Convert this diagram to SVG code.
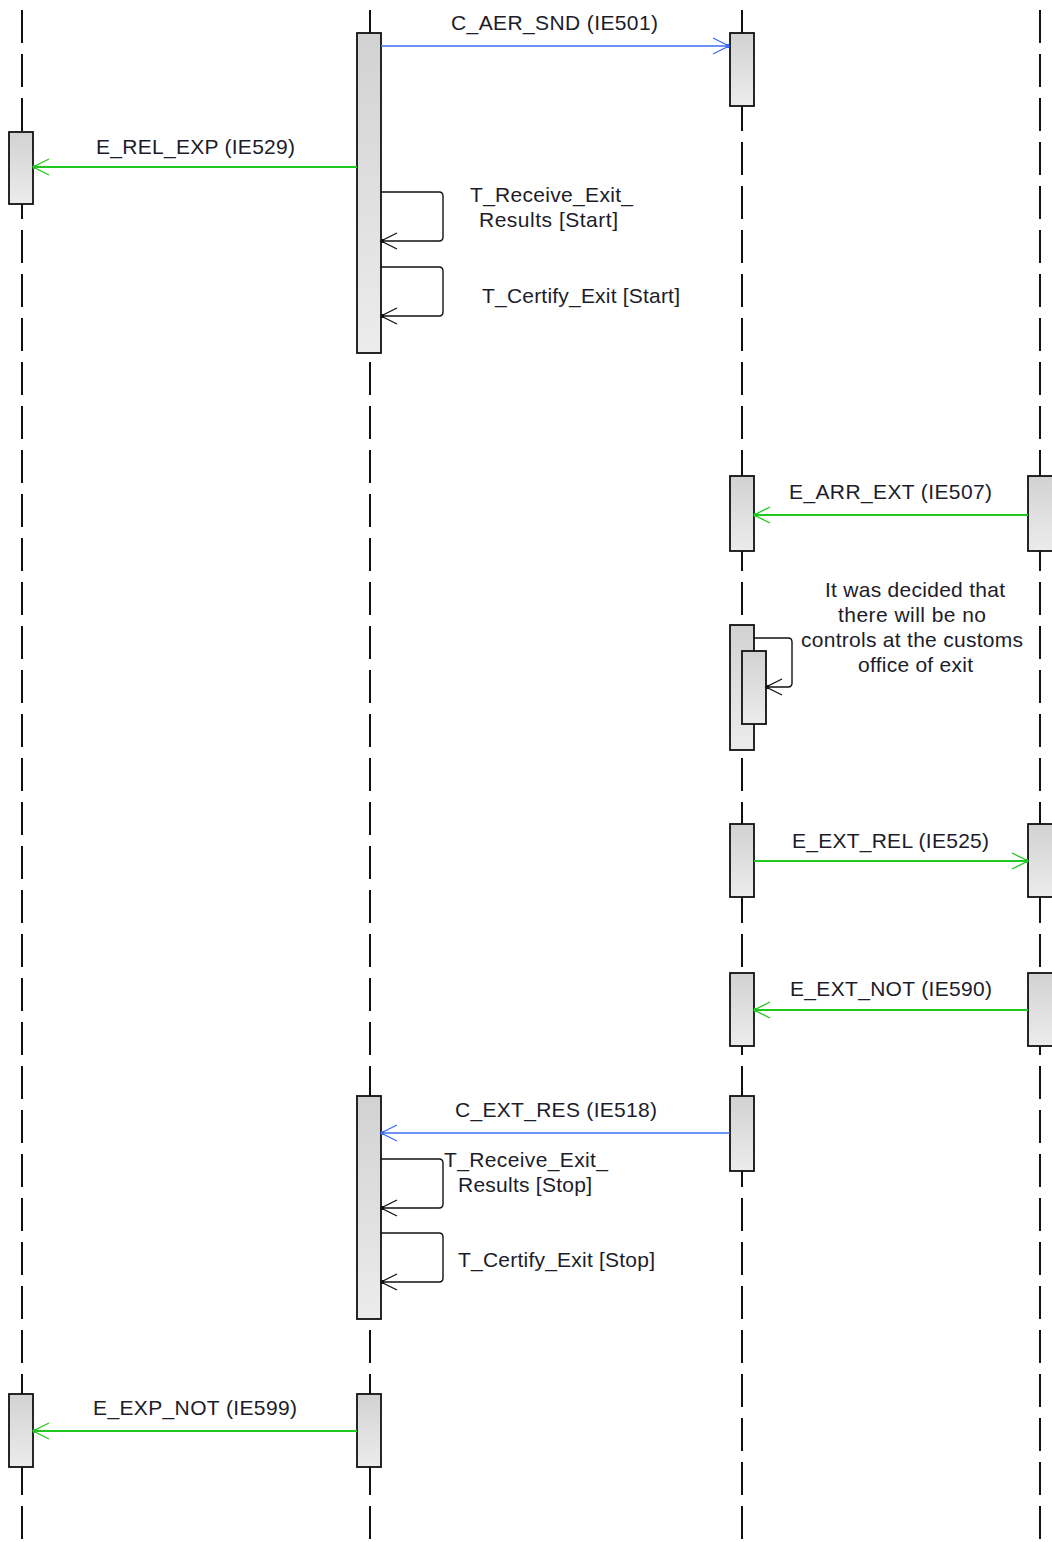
<svg xmlns="http://www.w3.org/2000/svg" width="1052" height="1542" viewBox="0 0 1052 1542">
<style>
.life{stroke:#111;stroke-width:2;stroke-dasharray:33 11;fill:none}
.act{fill:url(#barg);stroke:#111;stroke-width:1.8}
.msgb{stroke:#3b6ff2;stroke-width:1.6;fill:none;marker-end:url(#ab)}
.msgg{stroke:#1fc81f;stroke-width:1.8;fill:none;marker-end:url(#ag)}
.self{stroke:#111;stroke-width:1.4;fill:none;marker-end:url(#ak)}
text{font-family:"Liberation Sans",Arial,sans-serif;font-size:21px;fill:#1c1c2a;text-anchor:middle}
</style>
<defs>
<linearGradient id="barg" x1="0" y1="0" x2="0" y2="1">
<stop offset="0" stop-color="#d2d2d2"/>
<stop offset="1" stop-color="#ececec"/>
</linearGradient>
<marker id="ab" markerUnits="userSpaceOnUse" markerWidth="20" markerHeight="20" refX="0" refY="0" orient="auto" overflow="visible">
<path d="M-16,-8 L0,0 L-16,8" fill="none" stroke="#3b6ff2" stroke-width="1.3"/><rect x="-3" y="-2" width="3" height="4" fill="#3b6ff2"/>
</marker>
<marker id="ag" markerUnits="userSpaceOnUse" markerWidth="20" markerHeight="20" refX="0" refY="0" orient="auto" overflow="visible">
<path d="M-16,-8 L0,0 L-16,8" fill="none" stroke="#1fc81f" stroke-width="1.3"/><rect x="-3" y="-2" width="3" height="4" fill="#1fc81f"/>
</marker>
<marker id="ak" markerUnits="userSpaceOnUse" markerWidth="20" markerHeight="20" refX="0" refY="0" orient="auto" overflow="visible">
<path d="M-16,-8 L0,0 L-16,8" fill="none" stroke="#111" stroke-width="1.3"/><rect x="-3" y="-2" width="3" height="4" fill="#111"/>
</marker>
</defs>
<rect width="1052" height="1542" fill="#fff"/>
<g id="lifelines">
<line class="life" x1="22" y1="10" x2="22" y2="1542"/>
<line class="life" x1="370" y1="10" x2="370" y2="1542"/>
<line class="life" x1="742" y1="10" x2="742" y2="1542"/>
<line class="life" x1="1040" y1="10" x2="1040" y2="1542"/>
</g>
<g id="activations">
<rect class="act" x="357" y="33" width="24" height="320"/>
<rect class="act" x="730" y="33" width="24" height="73"/>
<rect class="act" x="9" y="132" width="24" height="72"/>
<rect class="act" x="730" y="476" width="24" height="75"/>
<rect class="act" x="1028" y="476" width="26" height="75"/>
<rect class="act" x="730" y="625" width="24" height="125"/>
<rect class="act" x="742" y="651" width="24" height="73"/>
<rect class="act" x="730" y="824" width="24" height="73"/>
<rect class="act" x="1028" y="824" width="26" height="73"/>
<rect class="act" x="730" y="973" width="24" height="73"/>
<rect class="act" x="1028" y="973" width="26" height="73"/>
<rect class="act" x="357" y="1096" width="24" height="223"/>
<rect class="act" x="730" y="1096" width="24" height="75"/>
<rect class="act" x="9" y="1394" width="24" height="73"/>
<rect class="act" x="357" y="1394" width="24" height="73"/>
</g>
<g id="connectors">
<path class="msgb" d="M381,46 H729"/>
<path class="msgg" d="M357,167 H33"/>
<path class="self" d="M381,192 H439 Q443,192 443,196 V237 Q443,241 439,241 H381"/>
<path class="self" d="M381,267 H439 Q443,267 443,271 V312 Q443,316 439,316 H381"/>
<path class="msgg" d="M1028,515 H754"/>
<path class="self" d="M754,638 H788 Q792,638 792,642 V683 Q792,687 788,687 H766"/>
<path class="msgg" d="M754,861 H1028"/>
<path class="msgg" d="M1028,1010 H754"/>
<path class="msgb" d="M730,1133 H381"/>
<path class="self" d="M381,1159 H439 Q443,1159 443,1163 V1204 Q443,1208 439,1208 H381"/>
<path class="self" d="M381,1233 H439 Q443,1233 443,1237 V1278 Q443,1282 439,1282 H381"/>
<path class="msgg" d="M357,1431 H33"/>
</g>
<g id="labels">
<text x="554.5" y="30" textLength="207">C_AER_SND (IE501)</text>
<text x="195.5" y="154" textLength="199">E_REL_EXP (IE529)</text>
<text x="551.5" y="202" textLength="163">T_Receive_Exit_</text>
<text x="548.5" y="227" textLength="139">Results [Start]</text>
<text x="581" y="303" textLength="198">T_Certify_Exit [Start]</text>
<text x="890.5" y="499" textLength="203">E_ARR_EXT (IE507)</text>
<text x="915" y="597" textLength="180">It was decided that</text>
<text x="912" y="622" textLength="148">there will be no</text>
<text x="912" y="647" textLength="222">controls at the customs</text>
<text x="915.5" y="672" textLength="115">office of exit</text>
<text x="890.5" y="848" textLength="197">E_EXT_REL (IE525)</text>
<text x="891" y="996" textLength="202">E_EXT_NOT (IE590)</text>
<text x="556" y="1117" textLength="202">C_EXT_RES (IE518)</text>
<text x="526" y="1167" textLength="164">T_Receive_Exit_</text>
<text x="525" y="1192" textLength="134">Results [Stop]</text>
<text x="556.5" y="1267" textLength="197">T_Certify_Exit [Stop]</text>
<text x="195" y="1415" textLength="204">E_EXP_NOT (IE599)</text>
</g>
</svg>
